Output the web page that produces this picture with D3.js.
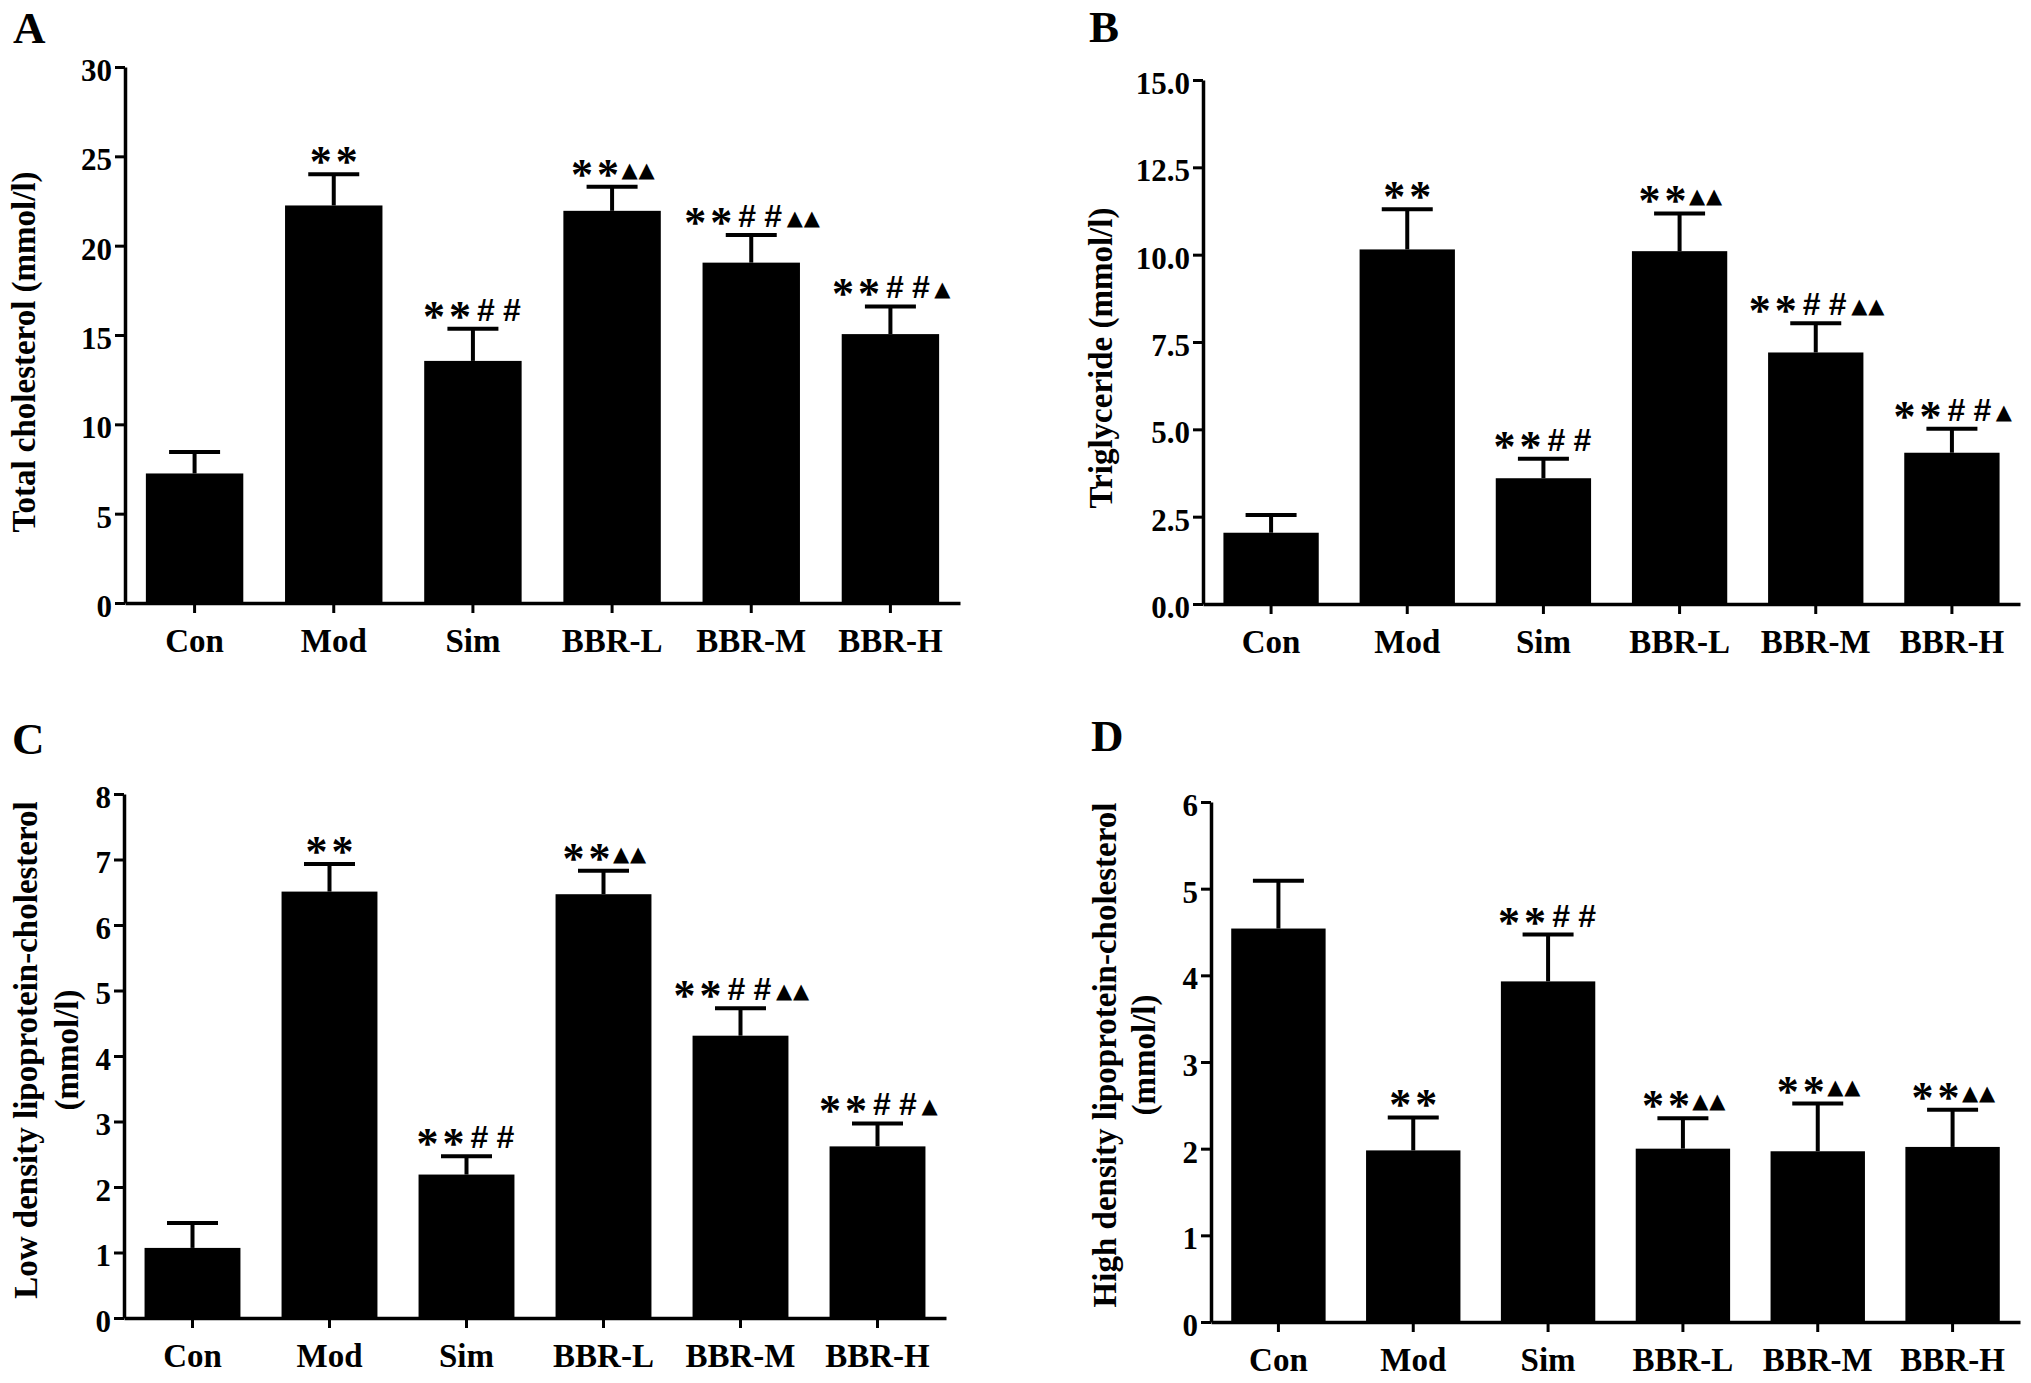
<!DOCTYPE html>
<html>
<head>
<meta charset="utf-8">
<script src="https://cdn.jsdelivr.net/npm/d3@7"></script>
<style>
  html, body { margin: 0; padding: 0; background: #ffffff; }
  svg { display: block; }
  text { font-family: "Liberation Serif", "Times New Roman", serif; font-weight: bold; fill: #000; }
</style>
</head>
<body>
<svg id="chart" width="2031" height="1383"></svg>
<script>
// ---------------- data ----------------
const categories = ["Con", "Mod", "Sim", "BBR-L", "BBR-M", "BBR-H"];

const tcMean  = [7.25, 22.25, 13.55, 21.95, 19.05, 15.05];
const tcErr   = [1.20, 1.75, 1.80, 1.35, 1.55, 1.55];
const tcTicks = [0, 5, 10, 15, 20, 25, 30];

const tgMean  = [2.04, 10.15, 3.60, 10.10, 7.20, 4.33];
const tgErr   = [0.51, 1.15, 0.56, 1.08, 0.84, 0.69];
const tgTicks = [0, 2.5, 5, 7.5, 10, 12.5, 15];

const ldlMean  = [1.07, 6.51, 2.19, 6.47, 4.31, 2.62];
const ldlErr   = [0.38, 0.42, 0.28, 0.36, 0.42, 0.35];
const ldlTicks = [0, 1, 2, 3, 4, 5, 6, 7, 8];

const hdlMean  = [4.54, 1.98, 3.93, 2.00, 1.97, 2.02];
const hdlErr   = [0.55, 0.38, 0.54, 0.35, 0.55, 0.43];
const hdlTicks = [0, 1, 2, 3, 4, 5, 6];

const sigABC = ["", "**", "**##", "**\u25B2\u25B2", "**##\u25B2\u25B2", "**##\u25B2"];
const sigD   = ["", "**", "**##", "**\u25B2\u25B2", "**\u25B2\u25B2", "**\u25B2\u25B2"];

const panelLetters = ["A", "B", "C", "D"];
const titleA = ["Total cholesterol (mmol/l)"];
const titleB = ["Triglyceride (mmol/l)"];
const titleC = ["Low density lipoprotein-cholesterol", "(mmol/l)"];
const titleD = ["High density lipoprotein-cholesterol", "(mmol/l)"];

// ---------------- layout ----------------
const panels = [
  { letter: panelLetters[0], title: titleA, mean: tcMean, err: tcErr, sig: sigABC, ticks: tcTicks, fmt: d3.format("d"),
    x0: 125, x1: 960, yBase: 603, yTop: 67, letterPos: [13, 43], titleX: [35], titleY: 352 },
  { letter: panelLetters[1], title: titleB, mean: tgMean, err: tgErr, sig: sigABC, ticks: tgTicks, fmt: d3.format(".1f"),
    x0: 1203, x1: 2020, yBase: 604, yTop: 80, letterPos: [1089, 42], titleX: [1112], titleY: 358 },
  { letter: panelLetters[2], title: titleC, mean: ldlMean, err: ldlErr, sig: sigABC, ticks: ldlTicks, fmt: d3.format("d"),
    x0: 124, x1: 946, yBase: 1318, yTop: 794, letterPos: [12, 754], titleX: [37, 78], titleY: 1050 },
  { letter: panelLetters[3], title: titleD, mean: hdlMean, err: hdlErr, sig: sigD, ticks: hdlTicks, fmt: d3.format("d"),
    x0: 1211, x1: 2020, yBase: 1322, yTop: 802, letterPos: [1091, 751], titleX: [1116, 1155], titleY: 1055 }
];

const svg = d3.select("#chart");

panels.forEach(p => {
  const g = svg.append("g");
  const x = d3.scaleBand().domain(categories).range([p.x0, p.x1]).paddingInner(0.3).paddingOuter(0.15);
  const y = d3.scaleLinear().domain([0, d3.max(p.ticks)]).range([p.yBase, p.yTop]);

  // bars
  const data = categories.map((c, i) => ({ c, m: p.mean[i], e: p.err[i], s: p.sig[i] }));
  g.selectAll("rect.bar").data(data).enter().append("rect")
    .attr("class", "bar")
    .attr("x", d => x(d.c))
    .attr("width", x.bandwidth())
    .attr("y", d => y(d.m))
    .attr("height", d => y(0) - y(d.m))
    .attr("fill", "#000");

  // error bars (upper only)
  const capW = 51;
  g.selectAll("line.stem").data(data).enter().append("line")
    .attr("x1", d => x(d.c) + x.bandwidth() / 2)
    .attr("x2", d => x(d.c) + x.bandwidth() / 2)
    .attr("y1", d => y(d.m))
    .attr("y2", d => y(d.m + d.e))
    .attr("stroke", "#000").attr("stroke-width", 4);
  g.selectAll("line.cap").data(data).enter().append("line")
    .attr("x1", d => x(d.c) + x.bandwidth() / 2 - capW / 2)
    .attr("x2", d => x(d.c) + x.bandwidth() / 2 + capW / 2)
    .attr("y1", d => y(d.m + d.e))
    .attr("y2", d => y(d.m + d.e))
    .attr("stroke", "#000").attr("stroke-width", 4);

  // significance marks
  data.forEach(d => {
    if (!d.s) return;
    const chars = Array.from(d.s);
    const pitch = ch => (ch === "\u25B2" ? 17 : 26);
    const total = d3.sum(chars, pitch);
    const cx = x(d.c) + x.bandwidth() / 2;
    const base = y(d.m + d.e) - 8;
    let cur = cx - total / 2;
    chars.forEach(ch => {
      const w = pitch(ch);
      const t = g.append("text")
        .attr("x", cur + w / 2)
        .attr("text-anchor", "middle")
        .text(ch);
      if (ch === "*") {
        t.attr("y", base + 10).style("font-size", "44px")
         .style("font-family", "'Liberation Serif', serif");
      } else if (ch === "#") {
        t.attr("y", base).style("font-size", "32px")
         .style("font-family", "'Liberation Sans', Arial, sans-serif");
      } else {
        t.attr("y", base - 2).style("font-size", "21px")
         .style("font-family", "'DejaVu Sans', sans-serif");
      }
      cur += w;
    });
  });

  // y axis
  const yAxis = g.append("g")
    .attr("transform", `translate(${p.x0},0)`)
    .call(d3.axisLeft(y).tickValues(p.ticks).tickFormat(p.fmt).tickSize(10).tickSizeOuter(0).tickPadding(3));
  yAxis.select(".domain").attr("stroke-width", 3.5);
  yAxis.selectAll(".tick line").attr("stroke-width", 3);
  yAxis.selectAll(".tick text")
    .attr("dy", "0.43em")
    .style("font-size", "31px")
    .style("font-family", "'Liberation Serif', 'Times New Roman', serif")
    .style("font-weight", "bold");

  // x axis
  const xAxis = g.append("g")
    .attr("transform", `translate(0,${p.yBase})`)
    .call(d3.axisBottom(x).tickSize(10).tickSizeOuter(0).tickPadding(16));
  xAxis.select(".domain").attr("stroke-width", 3.5);
  xAxis.selectAll(".tick line").attr("stroke-width", 3);
  xAxis.selectAll(".tick text")
    .style("font-size", "33px")
    .style("font-family", "'Liberation Serif', 'Times New Roman', serif")
    .style("font-weight", "bold");

  // axis title
  p.title.forEach((line, i) => {
    g.append("text")
      .attr("transform", `translate(${p.titleX[i]},${p.titleY}) rotate(-90)`)
      .attr("text-anchor", "middle")
      .style("font-size", "33px")
      .text(line);
  });

  // panel letter
  g.append("text")
    .attr("x", p.letterPos[0])
    .attr("y", p.letterPos[1])
    .style("font-size", "45px")
    .text(p.letter);
});
</script>
</body>
</html>
